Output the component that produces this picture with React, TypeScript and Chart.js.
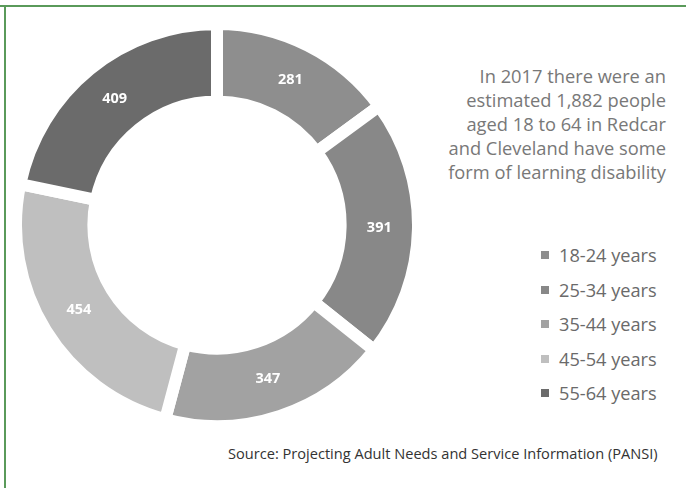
import React, { useEffect, useRef } from "react";
import { Chart, registerables } from "chart.js";

Chart.register(...registerables);

const categories = ["18-24 years", "25-34 years", "35-44 years", "45-54 years", "55-64 years"];
const values = [281, 391, 347, 454, 409];
const colors = ["#8e8e8e", "#888888", "#a2a2a2", "#bfbfbf", "#6b6b6b"];
const noteLines = [
  "In 2017 there were an",
  "estimated 1,882 people",
  "aged 18 to 64 in Redcar",
  "and Cleveland have some",
  "form of learning disability",
];
const sourceText = "Source: Projecting Adult Needs and Service Information (PANSI)";

const FONT = "'Open Sans', 'Noto Sans', sans-serif";

const valueLabels = {
  id: "valueLabels",
  afterDatasetsDraw(chart: any) {
    const ctx = chart.ctx;
    const meta = chart.getDatasetMeta(0);
    ctx.save();
    ctx.fillStyle = "#ffffff";
    ctx.font = `bold 14.5px ${FONT}`;
    ctx.textAlign = "center";
    ctx.textBaseline = "middle";
    meta.data.forEach((arc: any, i: number) => {
      const p = arc.getCenterPoint();
      ctx.fillText(String(chart.data.datasets[0].data[i]), p.x, p.y);
    });
    ctx.restore();
  },
};

export default function App() {
  const ref = useRef<HTMLCanvasElement | null>(null);

  useEffect(() => {
    document.body.style.margin = "0";
    if (!ref.current) return;
    const chart = new Chart(ref.current, {
      type: "doughnut",
      data: {
        labels: categories,
        datasets: [
          {
            data: values,
            backgroundColor: colors,
            borderColor: "#ffffff",
            borderWidth: 12,
            borderJoinStyle: "miter",
            hoverOffset: 0,
          },
        ],
      },
      options: {
        animation: false,
        responsive: false,
        maintainAspectRatio: false,
        cutout: "61.5%",
        layout: { padding: 0 },
        plugins: {
          legend: { display: false },
          tooltip: { enabled: false },
        },
      },
      plugins: [valueLabels],
    });
    return () => chart.destroy();
  }, []);

  return (
    <div
      style={{
        position: "fixed",
        left: 0,
        top: 0,
        width: 686,
        height: 488,
        background: "#ffffff",
        overflow: "hidden",
        fontFamily: FONT,
      }}
    >
      <div style={{ position: "absolute", left: 0, top: 5, width: 686, height: 2, background: "#5a9a5a" }} />
      <div style={{ position: "absolute", left: 4, top: 5, width: 2, height: 483, background: "#5a9a5a" }} />
      <canvas
        ref={ref}
        width={414}
        height={414}
        style={{ position: "absolute", left: 10, top: 18, width: 414, height: 414 }}
      />
      <div
        style={{
          position: "absolute",
          right: 20,
          top: 64,
          textAlign: "right",
          fontSize: 18.3,
          lineHeight: "24px",
          color: "#787878",
          whiteSpace: "nowrap",
        }}
      >
        {noteLines.map((l, i) => (
          <div key={i}>{l}</div>
        ))}
      </div>
      <div style={{ position: "absolute", left: 541, top: 238 }}>
        {categories.map((c, i) => (
          <div
            key={i}
            style={{
              display: "flex",
              alignItems: "center",
              height: 34.5,
              fontSize: 18.2,
              color: "#6a6a6a",
              whiteSpace: "nowrap",
            }}
          >
            <span
              style={{
                display: "inline-block",
                width: 8,
                height: 8,
                background: colors[i],
                marginRight: 10,
              }}
            />
            {c}
          </div>
        ))}
      </div>
      <div
        style={{
          position: "absolute",
          left: 228,
          top: 443,
          fontSize: 14.6,
          color: "#333333",
          whiteSpace: "nowrap",
        }}
      >
        {sourceText}
      </div>
    </div>
  );
}
